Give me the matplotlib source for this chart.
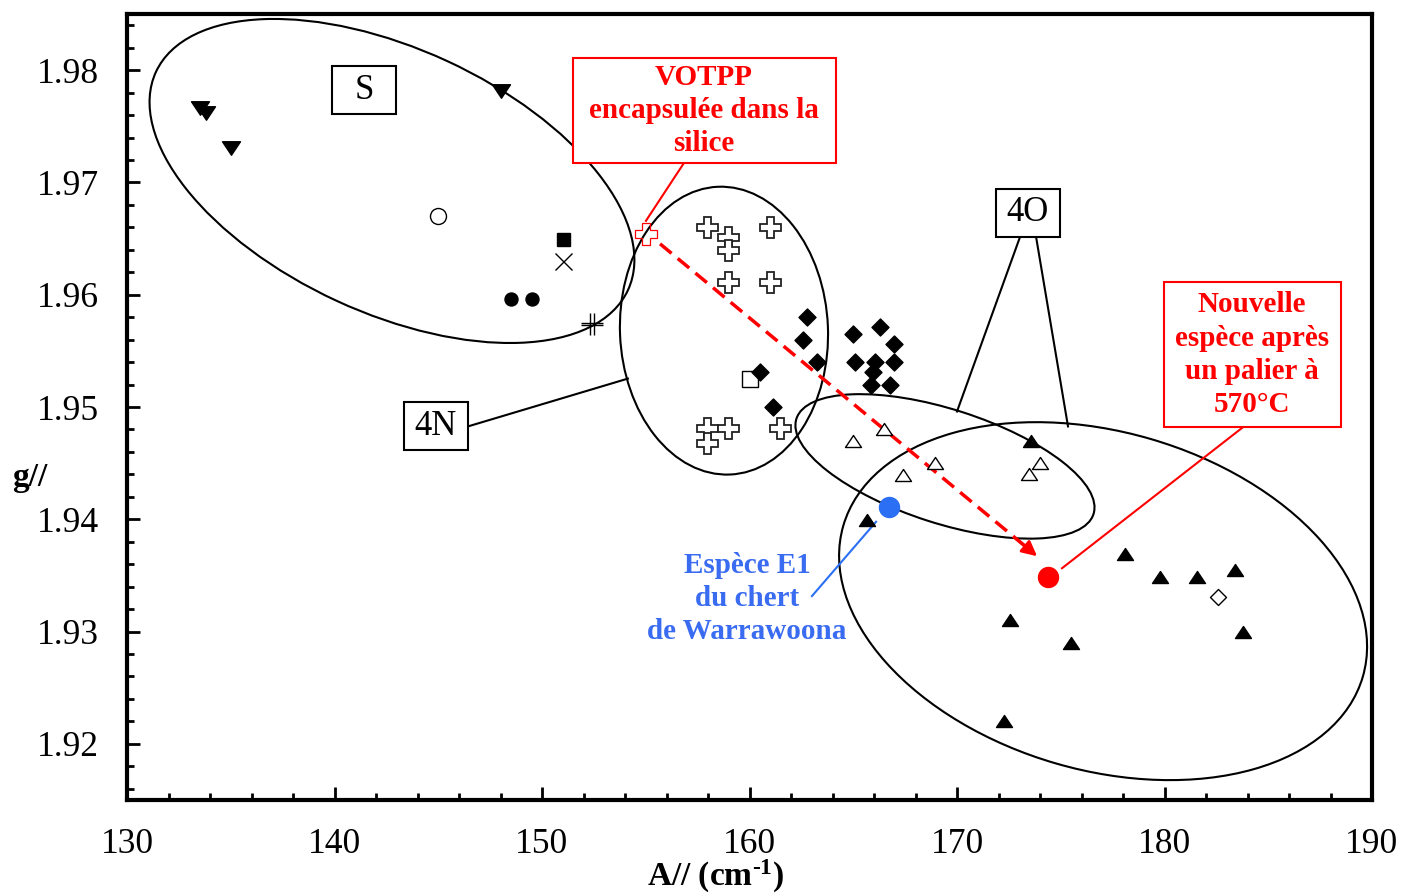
import numpy as np
import matplotlib
matplotlib.use('Agg')
import matplotlib.pyplot as plt
from matplotlib.patches import Ellipse, Rectangle
from matplotlib.path import Path
import matplotlib.transforms as mtransforms
from matplotlib.ticker import MultipleLocator, FormatStrFormatter

plt.rcParams['font.family'] = ['Liberation Serif', 'DejaVu Serif']
plt.rcParams['mathtext.fontset'] = 'custom'
plt.rcParams['mathtext.rm'] = 'Liberation Serif'
plt.rcParams['mathtext.bf'] = 'Liberation Serif:bold'
plt.rcParams['mathtext.default'] = 'bf'

# ---------------- data (A//, g//) ----------------
down_tri_x = [133.5, 133.8, 135.0, 148.0]
down_tri_y = [1.9766, 1.9762, 1.9731, 1.9781]

open_circle_x = [145.0]
open_circle_y = [1.967]

filled_square_x = [151.0]
filled_square_y = [1.965]

xmark_x = [151.0]
xmark_y = [1.963]

filled_circle_x = [148.5, 149.5]
filled_circle_y = [1.9596, 1.9596]

double_cross_x = [152.4]
double_cross_y = [1.9574]

votpp_x = [155.0]
votpp_y = [1.9654]

open_plus_x = [157.95, 158.96, 158.96, 160.99, 158.96, 160.99, 157.95, 158.96, 157.95, 161.47]
open_plus_y = [1.9660, 1.9651, 1.9640, 1.9660, 1.9611, 1.9611, 1.9481, 1.9481, 1.9468, 1.9481]

open_square_x = [160.0]
open_square_y = [1.9525]

filled_diamond_x = [162.77, 162.58, 163.25, 160.51, 161.13, 164.99, 166.29, 166.96,
                    165.08, 166.05, 166.96, 165.95, 165.86, 166.77]
filled_diamond_y = [1.9580, 1.9560, 1.9540, 1.9531, 1.9500, 1.9565, 1.9571, 1.9556,
                    1.9540, 1.9540, 1.9540, 1.9531, 1.9520, 1.9520]

open_tri_x = [164.99, 166.48, 167.40, 168.94, 173.47, 174.0]
open_tri_y = [1.9470, 1.9480, 1.9439, 1.9450, 1.9440, 1.9450]

filled_tri_x = [173.57, 165.66, 178.10, 179.78, 181.57, 183.40, 172.55, 175.49, 183.78, 172.27]
filled_tri_y = [1.9470, 1.9399, 1.9369, 1.9349, 1.9349, 1.9355, 1.9310, 1.9290, 1.9300, 1.9220]

open_diamond_x = [182.6]
open_diamond_y = [1.9331]

new_species_x = [174.4]
new_species_y = [1.9349]

e1_x = [166.7]
e1_y = [1.9411]

xticks = [130, 140, 150, 160, 170, 180, 190]
yticks = [1.92, 1.93, 1.94, 1.95, 1.96, 1.97, 1.98]

# ---------------- figure ----------------
fig = plt.figure(figsize=(14.04, 8.94), dpi=100)
ax = fig.add_axes([127/1404, 1 - 800/894, 1245/1404, 786/894])
ax.set_xlim(130, 190)
ax.set_ylim(1.915, 1.985)

RED = '#FF0000'
BLUE_DOT = '#2B6FF5'
BLUE_TXT = '#3A6CF2'
LS = 1.29


def px_trans(cx, cy):
    return fig.dpi_scale_trans + mtransforms.ScaledTranslation(cx, cy, ax.transData)


def ellipse(cx, cy, w, h, angle):
    e = Ellipse((0, 0), w / 100, h / 100, angle=angle, transform=px_trans(cx, cy),
                fill=False, edgecolor='black', lw=1.5, zorder=2)
    ax.add_patch(e)


def box(cx, cy, w, h, text, color='black', size=24, weight='normal', lw=1.5):
    r = Rectangle((-w / 200, -h / 200), w / 100, h / 100, transform=px_trans(cx, cy),
                  facecolor='white', edgecolor=color, lw=lw, zorder=4)
    ax.add_patch(r)
    ax.text(cx, cy, text, ha='center', va='center', fontsize=size, color=color,
            fontweight=weight, linespacing=LS, zorder=5)


# ellipses (groups S, 4N, 4O)
ellipse(142.77, 1.97013, 520, 264, -24.8)
ellipse(158.77, 1.95680, 208, 288, 2.4)
ellipse(169.42, 1.94471, 312, 114, -17.8)
ellipse(177.04, 1.93271, 541, 338, -16.2)

# connector lines
ax.plot([146.43, 154.14], [1.94827, 1.95253], color='black', lw=1.5, zorder=2)
ax.plot([173.04, 170.0], [1.96516, 1.9496], color='black', lw=1.5, zorder=2)
ax.plot([173.81, 175.35], [1.96516, 1.94827], color='black', lw=1.5, zorder=2)
ax.plot([156.84, 155.01], [1.97173, 1.96658], color=RED, lw=1.5, zorder=2)
ax.plot([183.83, 175.06], [1.94827, 1.93564], color=RED, lw=1.5, zorder=2)
ax.plot([163.01, 166.10], [1.93316, 1.93978], color=BLUE_DOT, lw=1.5, zorder=2)

# red dashed arrow
ax.plot([155.69, 173.55], [1.96453, 1.93720], color=RED, lw=2.5, dashes=(4.3, 2.3), zorder=2)
ax.annotate('', xy=(173.86, 1.93671), xytext=(-15.4, 12.8), textcoords='offset points',
            arrowprops=dict(arrowstyle='-|>,head_length=0.9,head_width=0.45', color=RED,
                            lw=2, shrinkA=0, shrinkB=0), zorder=3)

# custom markers
tri_up = Path([(0, 0.75), (-1, -0.75), (1, -0.75), (0, 0.75)],
              [Path.MOVETO, Path.LINETO, Path.LINETO, Path.CLOSEPOLY])
tri_down = Path([(0, -0.75), (-1, 0.75), (1, 0.75), (0, -0.75)],
                [Path.MOVETO, Path.LINETO, Path.LINETO, Path.CLOSEPOLY])
diamond = Path([(0, 1), (1, 0), (0, -1), (-1, 0), (0, 1)],
               [Path.MOVETO, Path.LINETO, Path.LINETO, Path.LINETO, Path.CLOSEPOLY])
dcross = Path([(-0.2, -1), (-0.2, 1), (0.2, -1), (0.2, 1),
               (-1, -0.08), (1, -0.08), (-1, 0.12), (1, 0.12)],
              [Path.MOVETO, Path.LINETO, Path.MOVETO, Path.LINETO,
               Path.MOVETO, Path.LINETO, Path.MOVETO, Path.LINETO])

P = 0.72  # px -> pt

def pts(x, y, marker, size_px, mfc='black', mec='black', mew=1.0, z=3):
    ax.plot(x, y, ls='none', marker=marker, ms=size_px * P, mfc=mfc, mec=mec, mew=mew, zorder=z)

pts(down_tri_x, down_tri_y, tri_down, 18)
pts(open_circle_x, open_circle_y, 'o', 16, mfc='white', mew=1.0)
pts(filled_square_x, filled_square_y, 's', 13)
pts(xmark_x, xmark_y, 'x', 17, mew=1.0)
pts(filled_circle_x, filled_circle_y, 'o', 13)
pts(double_cross_x, double_cross_y, dcross, 22, mfc='none', mew=1.0)
pts(votpp_x, votpp_y, 'P', 23, mfc='none', mec=RED, mew=0.9)
pts(open_plus_x, open_plus_y, 'P', 21, mfc='white', mec='#222222', mew=1.3)
pts(open_square_x, open_square_y, 's', 16, mfc='white', mew=1.0)
pts(filled_diamond_x, filled_diamond_y, diamond, 17)
pts(open_tri_x, open_tri_y, tri_up, 16, mfc='white', mew=1.0)
pts(filled_tri_x, filled_tri_y, tri_up, 16)
pts(open_diamond_x, open_diamond_y, diamond, 16, mfc='white', mew=1.0)
pts(new_species_x, new_species_y, 'o', 20, mfc=RED, mec=RED)
pts(e1_x, e1_y, 'o', 20, mfc=BLUE_DOT, mec=BLUE_DOT)

# boxes / labels
box(141.42, 1.97822, 64, 48, 'S', size=25)
box(144.89, 1.94827, 64, 48, '4N', size=25)
box(173.42, 1.96729, 64, 48, '4O', size=25)
box(157.81, 1.97640, 263, 105, 'VOTPP\nencapsulée dans la\nsilice', color=RED, size=21, weight='bold')
box(184.22, 1.95467, 177, 145, 'Nouvelle\nespèce après\nun palier à\n570°C', color=RED, size=21, weight='bold')
ax.text(159.88, 1.93298, 'Espèce E1\ndu chert\nde Warrawoona', ha='center', va='center',
        fontsize=21, fontweight='bold', color=BLUE_TXT, linespacing=LS, zorder=5)

# axes styling
ax.set_xticks(xticks)
ax.set_yticks(yticks)
ax.xaxis.set_minor_locator(MultipleLocator(2))
ax.yaxis.set_minor_locator(MultipleLocator(0.002))
ax.yaxis.set_major_formatter(FormatStrFormatter('%.2f'))
ax.tick_params(which='both', direction='in', top=False, right=False, width=2)
ax.tick_params(which='major', length=9.5, labelsize=25.5, pad=20)
ax.tick_params(which='minor', length=5)
for s in ax.spines.values():
    s.set_linewidth(3)

ax.set_xlabel('A// (cm$^{\u2010\\mathbf{1}}$)', fontsize=24, fontweight='bold')
ax.xaxis.set_label_coords(0.473, -0.097)
ax.xaxis.label.set_va('center')
ax.set_ylabel('g//', fontsize=24, fontweight='bold', rotation=0)
ax.yaxis.set_label_coords(-0.078, 0.41)
ax.yaxis.label.set_va('center')
ax.yaxis.label.set_ha('center')

fig.savefig('out.png', dpi=100)
